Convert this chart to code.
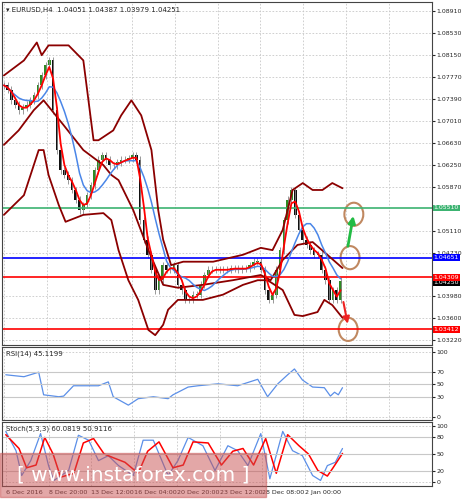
import numpy as np, pandas as pd, matplotlib
matplotlib.use("Agg")
import matplotlib.pyplot as plt, seaborn as sns
from matplotlib.patches import Ellipse, Rectangle

close = [1.0763,1.0755,1.0737,1.0729,1.0720,1.0724,1.0729,1.0737,1.0746,1.0763,1.0780,1.0798,1.0806,1.0720,
 1.0651,1.0616,1.0608,1.0599,1.0582,1.0565,1.0547,1.0556,1.0573,1.0590,1.0616,1.0634,1.0642,1.0634,1.0625,
 1.0625,1.0630,1.0634,1.0634,1.0637,1.0642,1.0634,1.0530,1.0496,1.0470,1.0444,1.0409,1.0426,1.0452,1.0444,
 1.0444,1.0452,1.0418,1.0409,1.0392,1.0392,1.0401,1.0401,1.0418,1.0435,1.0444,1.0444,1.0444,1.0444,1.0444,
 1.0444,1.0447,1.0447,1.0444,1.0447,1.0447,1.0452,1.0458,1.0458,1.0444,1.0409,1.0392,1.0401,1.0444,1.0478,
 1.0530,1.0565,1.0582,1.0539,1.0513,1.0496,1.0487,1.0478,1.0470,1.0470,1.0444,1.0426,1.0392,1.0409,1.0392,1.0425]
bb_up_x = [0,5.3,8.7,10,11.8,17.1,21,23.7,25,28.9,31,33.7,36.3,39,40.8,42.1,44.2,47.4,55.3,63.2,67.9,71,73.7,76.3,79,81.6,84.2,86.8,89.5]
bb_up = [1.0780,1.0806,1.0837,1.0815,1.0832,1.0832,1.0806,1.0668,1.0668,1.0685,1.0711,1.0737,1.0711,1.0651,1.0547,1.0496,1.0452,1.0458,1.0458,1.0470,1.0482,1.0478,1.0513,1.0582,1.0594,1.0582,1.0582,1.0594,1.0585]
bb_lo_x = [0,5.3,9.2,10.5,11.8,14.5,16.3,21,26.3,28.4,30.3,32.9,35.5,38.2,40,42.1,43.4,46,52.6,57.9,63.2,67.1,69.7,73.7,76.8,79,82.9,84.7,86.8,89.5]
bb_lo = [1.0539,1.0573,1.0651,1.0651,1.0608,1.0556,1.0527,1.0539,1.0542,1.0530,1.0478,1.0426,1.0392,1.0340,1.0331,1.0349,1.0375,1.0392,1.0392,1.0401,1.0418,1.0426,1.0426,1.0409,1.0366,1.0364,1.0371,1.0392,1.0383,1.0361]
bb_mid_x = [0,3.9,7.9,10.5,15.8,21,26.3,28.4,30.3,34.2,38.2,42.1,46,52.6,60.5,67.9,70.5,73.7,77.6,81.6,85.5,89.5]
bb_mid = [1.0660,1.0685,1.0720,1.0737,1.0694,1.0651,1.0625,1.0608,1.0599,1.0547,1.0478,1.0418,1.0413,1.0418,1.0426,1.0435,1.0426,1.0461,1.0487,1.0492,1.0470,1.0447]
rsi_x = [0.5,5.3,9.2,10.5,14.5,15.8,18.4,25,27.6,28.9,32.9,35.5,39.5,43.4,44.7,48.7,51.3,56.6,61.8,67.1,69.7,72.4,75,76.8,78.9,81.6,84.7,86.3,87.4,88.4,89.5]
rsi = [65,62,69,34,31,32,48,48,54,31,18,28,31,28,34,46,48,51,48,58,31,51,65,74,57,46,45,32,38,34,45]
stk_x = [0.5,3.2,4.7,7.1,9.7,11.8,13.2,17.1,19.7,22.4,25,27.6,30.3,34.2,36.8,39.5,43.4,46,48.7,52.6,55.8,59.2,61.8,64.5,67.9,70.3,73.7,76.3,78.9,81.6,83.7,85.5,87.6,89.5]
stk_k = [91,56,11,38,87,29,2,20,84,75,38,47,29,11,75,75,11,38,80,65,20,65,56,29,87,5,91,56,47,11,2,29,35,60]
std_x = [0.5,4,6,8.5,10.8,13,15,18.5,21,23.7,26.5,29,32,35.5,38,41,44.7,47.4,50,54,57.5,60.5,63.2,66,69.2,72,75,78,80.5,83,85.5,87,89.5]
std_d = [85,60,25,30,80,50,8,15,70,78,50,43,35,15,55,72,25,30,72,70,30,55,60,30,78,15,85,65,50,20,10,25,51]
levels = [1.05510, 1.04651, 1.04309, 1.03412]
level_colors = ["#3cb371", "#0000ff", "#ff0000", "#ff0000"]
price_ticks = [1.08910,1.08530,1.08150,1.07770,1.07390,1.07010,1.06630,1.06250,1.05870,1.05110,1.04730,1.03980,1.03600,1.03220]
date_labels = ["6 Dec 2016","8 Dec 20:00","13 Dec 12:00","16 Dec 04:00","20 Dec 20:00","23 Dec 12:00","28 Dec 08:00","2 Jan 00:00"]

s = pd.Series(close); n = len(s); x = np.arange(n)
ma_fast = s.rolling(3, min_periods=1).mean()
ma_slow = s.rolling(8, min_periods=1).mean()

sns.set_style("white")
plt.rcParams['font.family'] = ['DejaVu Sans']
fig = plt.figure(figsize=(4.62, 5.0), dpi=100)
W, H = 462, 500
AW = 430
def ax_at(t, b):
    return fig.add_axes([2/W, 1-b/H, AW/W, (b-t)/H])
ax = ax_at(2, 345); ar = ax_at(347, 420); ast = ax_at(422, 486)
xmax = AW/3.8
for a in (ax, ar, ast):
    a.set_xlim(-0.5, xmax)
    a.yaxis.tick_right()
    a.tick_params(labelsize=4.5, length=2, pad=1.2)
    a.set_xticks([i*11.3 for i in range(10)]); a.set_xticklabels([])
    a.grid(True, ls=(0,(2,2)), color="#c8c8c8", lw=0.6)
    for sp in a.spines.values(): sp.set_color("#444"); sp.set_linewidth(0.8)

ax.set_ylim(1.0314, 1.0907)
ax.set_yticks(price_ticks); ax.set_yticklabels([f"{t:.5f}" for t in price_ticks])
op = [close[0]] + close[:-1]
for i in range(n):
    c = "#2e8b22" if close[i] >= op[i] else "#111"
    lo_, hi_ = sorted([op[i], close[i]])
    ax.vlines(i, lo_-0.0006, hi_+0.0006, color="#888", lw=0.6)
    ax.add_patch(Rectangle((i-0.35, lo_), 0.7, max(hi_-lo_, 0.00005), color=c, lw=0))
for lv, c in zip(levels, level_colors):
    ax.axhline(lv, color=c, lw=1.2)
    ax.text(1.004, lv, f"{lv:.5f}", transform=ax.get_yaxis_transform(), fontsize=4.5, color="white",
            va="center", bbox=dict(fc=c, ec="none", pad=0.6), clip_on=False, zorder=10)
ax.text(1.004, close[-1]-0.0003, f"{close[-1]:.5f}", transform=ax.get_yaxis_transform(), fontsize=4.5, color="white",
        va="center", bbox=dict(fc="black", ec="none", pad=0.6), clip_on=False, zorder=9)
for xs, ys in [(bb_up_x, bb_up), (bb_mid_x, bb_mid), (bb_lo_x, bb_lo)]:
    sns.lineplot(x=xs, y=ys, ax=ax, color="#8b0000", lw=1.3)
sns.lineplot(x=x, y=ma_slow.values, ax=ax, color="#4a86e8", lw=1.1)
sns.lineplot(x=x, y=ma_fast.values, ax=ax, color="#ff0000", lw=1.3)
for (cx, cy) in [(92.5, 1.0540), (91.5, 1.0465), (91.0, 1.0341)]:
    ax.add_patch(Ellipse((cx, cy), 5, 0.0040, fill=False, ec="#c08860", lw=1.5))
ax.annotate("", xy=(92.5, 1.0542), xytext=(90.8, 1.0480), arrowprops=dict(arrowstyle="-|>", color="#22bb44", lw=2))
ax.annotate("", xy=(91.0, 1.0346), xytext=(89.6, 1.0393), arrowprops=dict(arrowstyle="-|>", color="#ee2222", lw=1.5))
ax.text(0.01, 0.985, "▾ EURUSD,H4  1.04051 1.04387 1.03979 1.04251", transform=ax.transAxes, fontsize=5, va="top")

ar.set_ylim(-5, 108); ar.set_yticks([0,30,50,70,100])
sns.lineplot(x=rsi_x, y=rsi, ax=ar, color="#5b8fe8", lw=0.9)
for v in (30,50,70): ar.axhline(v, color="#c8c8c8", lw=0.8)
ar.text(0.01, 0.95, "RSI(14) 45.1199", transform=ar.transAxes, fontsize=5, va="top")

ast.set_ylim(-8, 108); ast.set_yticks([0,20,50,80,100])
sns.lineplot(x=stk_x, y=stk_k, ax=ast, color="#5b8fe8", lw=0.9)
sns.lineplot(x=std_x, y=std_d, ax=ast, color="#ff0000", lw=1.1)
for v in (20,50,80): ast.axhline(v, color="#c8c8c8", lw=0.8)
ast.text(0.01, 0.95, "Stoch(5,3,3) 60.0819 50.9116", transform=ast.transAxes, fontsize=5, va="top")
ast.set_xticks([0.5+i*11.3 for i in range(8)])
ast.set_xticklabels(date_labels, fontsize=4.6, ha="left")
fig.patches.append(Rectangle((0, 3/H), 266/W, 44/H, transform=fig.transFigure, color="#c85050", alpha=0.5, zorder=5))
fig.text(133/W, 25/H, "[ www.instaforex.com ]", color="white", fontsize=14.5, ha="center", va="center", zorder=6)
fig.savefig("out.png", dpi=100)
